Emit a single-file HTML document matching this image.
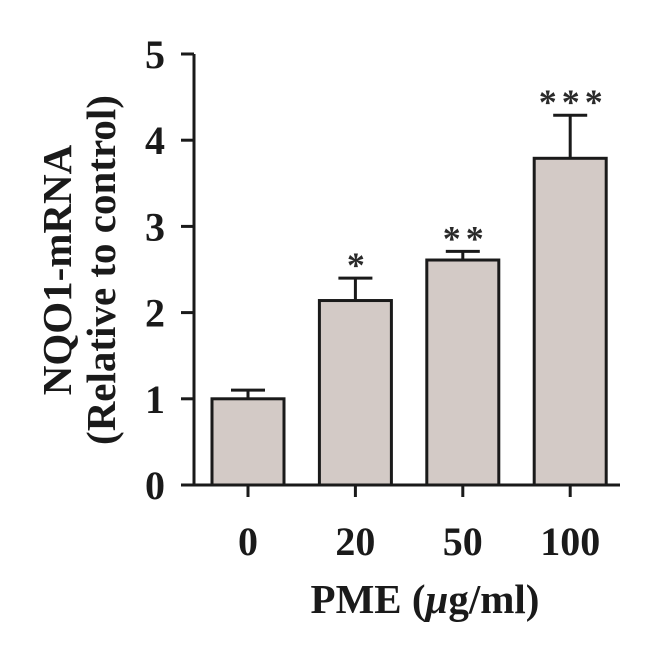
<!DOCTYPE html>
<html><head><meta charset="utf-8"><style>
html,body{margin:0;padding:0;background:#fff;}
svg{display:block;font-family:"Liberation Serif",serif;font-weight:bold;}
</style></head><body>
<svg id="chart" width="660" height="659" viewBox="0 0 660 659" xmlns="http://www.w3.org/2000/svg"></svg>
<script>
const categories = ["0", "20", "50", "100"];
const values = [1.0, 2.14, 2.61, 3.79];
const errors = [0.10, 0.26, 0.10, 0.50];
const stars = ["", "*", "**", "***"];
const yTicks = [0, 1, 2, 3, 4, 5];

const NS = "http://www.w3.org/2000/svg";
const svg = document.getElementById("chart");
const x0 = 194, x1 = 620, yBase = 485, unit = 86.2;
const y = v => yBase - v * unit;
const xc = i => 248 + i * 107.4;
const bw = 72;
function mk(tag, attrs, parent) {
  const e = document.createElementNS(NS, tag);
  for (const k in attrs) e.setAttribute(k, attrs[k]);
  (parent || svg).appendChild(e);
  return e;
}
categories.forEach((c, i) => {
  const cx = xc(i), top = y(values[i]), et = y(values[i] + errors[i]);
  const err = mk("path", {d: `M${cx} ${top} V${et} M${cx-17} ${et} H${cx+17}`, stroke: "#1a1a1a", "stroke-width": 3, fill: "none"});
  
  
  const r = mk("rect", {x: cx - bw/2, y: top, width: bw, height: yBase - top, fill: "#d3cac6", stroke: "#1a1a1a", "stroke-width": 3});
  
  
  if (stars[i]) {
    const t = mk("text", {x: cx + 3, y: et - 1, "text-anchor": "middle", "font-size": 36, fill: "#2a2a2a", "letter-spacing": "5"});
    t.textContent = stars[i];
    
    
  }
  const tk = mk("line", {x1: cx, x2: cx, y1: yBase, y2: 497, stroke: "#1a1a1a", "stroke-width": 3});
  
  
  const lb = mk("text", {x: cx, y: 555, "text-anchor": "middle", "font-size": 40, fill: "#1a1a1a"});
  lb.textContent = c;
  
  
});
const ax = mk("path", {d: `M${x0} 54 V${yBase} H${x1}`, stroke: "#1a1a1a", "stroke-width": 3, fill: "none"});


yTicks.forEach(v => {
  const t = mk("line", {x1: 181, x2: x0, y1: y(v), y2: y(v), stroke: "#1a1a1a", "stroke-width": 3});
  
  
  const l = mk("text", {x: 155, y: y(v) + 14, "text-anchor": "middle", "font-size": 40, fill: "#1a1a1a"});
  l.textContent = v;
  
  
});
</script>
<svg style="position:absolute;left:0;top:0" width="660" height="659">
<text x="425" y="613" text-anchor="middle" font-size="41" fill="#1a1a1a" font-family="Liberation Serif" font-weight="bold">PME (<tspan font-style="italic">μ</tspan>g/ml)</text>
<g transform="translate(71,270) rotate(-90)">
<text x="0" y="0" text-anchor="middle" font-size="41" fill="#1a1a1a" font-family="Liberation Serif" font-weight="bold">NQO1-mRNA</text>
<text x="0" y="44" text-anchor="middle" font-size="41" fill="#1a1a1a" font-family="Liberation Serif" font-weight="bold">(Relative to control)</text>
</g>
</svg>
</body></html>
